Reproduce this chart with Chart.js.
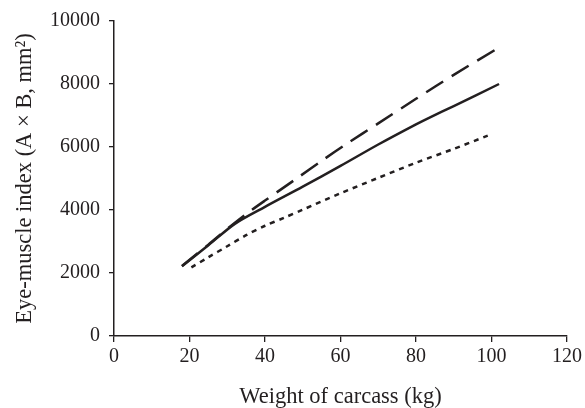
<!DOCTYPE html>
<html>
<head>
<meta charset="utf-8">
<script src="https://cdn.jsdelivr.net/npm/chart.js@4.4.0/dist/chart.umd.min.js"></script>
<style>
  html, body { margin: 0; padding: 0; background: #fff; }
  #wrap { width: 585px; height: 408px; }
</style>
</head>
<body>
<div id="wrap"><canvas id="myChart" width="585" height="408"></canvas></div>
<script>
// carcass weight (kg) and eye-muscle index (mm2)
const solidX  = [18, 25, 32, 40, 50, 60, 70, 80, 84, 90, 102];
const solidY  = [2215, 2880, 3560, 4100, 4740, 5400, 6080, 6720, 6960, 7300, 8000];

const dashedX = [18, 25, 30, 35, 40, 48.5, 55, 62, 70, 80, 90, 102.7];
const dashedY = [2225, 2900, 3400, 3870, 4300, 5010, 5560, 6130, 6750, 7530, 8290, 9210];

const dottedX = [20.5, 25, 30, 35, 40, 45, 50, 60, 70, 80, 90, 99];
const dottedY = [2180, 2500, 2850, 3200, 3500, 3750, 4010, 4530, 5020, 5500, 5940, 6360];

const xTicks = [0, 20, 40, 60, 80, 100, 120];
const yTicks = [0, 2000, 4000, 6000, 8000, 10000];

function toPoints(xs, ys) {
  let pts = [];
  for (let i = 0; i < xs.length; i++) {
    pts.push({ x: xs[i], y: ys[i] });
  }
  return pts;
}

const ink = '#231f20';
const serif = "'Liberation Serif', 'DejaVu Serif', serif";

let ctx = document.getElementById('myChart');
var data = {
  datasets: [
    {
      label: 'solid',
      data: toPoints(solidX, solidY),
      borderColor: ink,
      borderWidth: 2.5,
      fill: false,
      tension: 0.3,
      pointRadius: 0
    },
    {
      label: 'dashed',
      data: toPoints(dashedX, dashedY),
      borderColor: ink,
      borderWidth: 2.5,
      borderDash: [20, 10],
      fill: false,
      tension: 0.3,
      pointRadius: 0
    },
    {
      label: 'dotted',
      data: toPoints(dottedX, dottedY),
      borderColor: ink,
      borderWidth: 2.5,
      borderDash: [5, 5],
      fill: false,
      tension: 0.3,
      pointRadius: 0
    }
  ]
};

var options = {
  responsive: false,
  animation: false,
  layout: { padding: { top: 20, right: 17, bottom: 0, left: 0 } },
  plugins: {
    legend: { display: false },
    tooltip: { enabled: false }
  },
  scales: {
    x: {
      type: 'linear',
      min: 0,
      max: 120,
      afterBuildTicks: (scale) => { scale.ticks = xTicks.map(v => ({ value: v })); },
      afterFit: (scale) => { scale.height = 72; },
      ticks: {
        color: ink,
        font: { family: serif, size: 20 },
        padding: 3,
        maxRotation: 0,
        callback: (v) => String(v)
      },
      grid: { drawOnChartArea: false, drawTicks: true, tickLength: 6, color: ink, lineWidth: 1.3 },
      border: { display: true, color: ink, width: 1.5 },
      title: {
        display: true,
        text: 'Weight of carcass (kg)',
        color: ink,
        font: { family: serif, size: 22.5, lineHeight: 1 },
        padding: { top: 0, bottom: 0 }
      }
    },
    y: {
      min: 0,
      max: 10000,
      afterBuildTicks: (scale) => { scale.ticks = yTicks.map(v => ({ value: v })); },
      afterFit: (scale) => { scale.width = 114; },
      ticks: {
        color: ink,
        font: { family: serif, size: 20 },
        padding: 9,
        callback: (v) => String(v)
      },
      grid: { drawOnChartArea: false, drawTicks: true, tickLength: 5, color: ink, lineWidth: 1.3 },
      border: { display: true, color: ink, width: 1.5 },
      title: {
        display: true,
        text: 'Eye-muscle index (A × B, mm²)',
        color: ink,
        font: { family: serif, size: 22.5, lineHeight: 1 },
        padding: { top: 14, bottom: 0 }
      }
    }
  }
};

var chart = new Chart(ctx, {
  type: 'line',
  data: data,
  options: options
});
</script>
</body>
</html>
